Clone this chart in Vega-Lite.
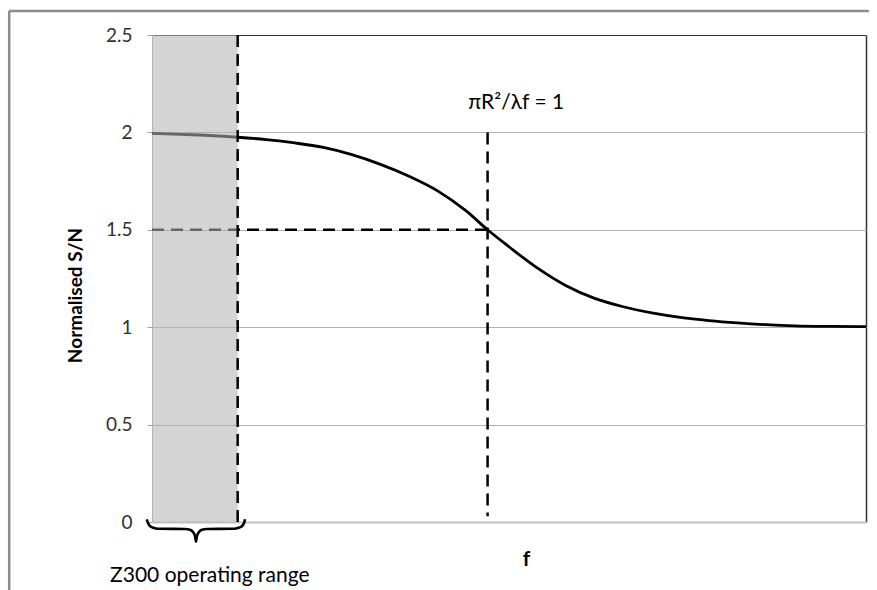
{
  "$schema": "https://vega.github.io/schema/vega-lite/v6.json",
  "width": 714,
  "height": 487,
  "autosize": {"type": "none"},
  "padding": {"left": 152, "top": 35, "right": 11, "bottom": 68},
  "background": "white",
  "config": {"view": {"stroke": null}, "font": "Lato"},
  "datasets": {
    "curve": [
      {"f": 0, "sn": 1.995}, {"f": 4, "sn": 1.99}, {"f": 8, "sn": 1.984}, {"f": 12, "sn": 1.975},
      {"f": 16, "sn": 1.963}, {"f": 20, "sn": 1.946}, {"f": 24, "sn": 1.923}, {"f": 28, "sn": 1.886},
      {"f": 32, "sn": 1.836}, {"f": 36, "sn": 1.775}, {"f": 40, "sn": 1.7}, {"f": 44, "sn": 1.597},
      {"f": 47, "sn": 1.5}, {"f": 50, "sn": 1.413}, {"f": 54, "sn": 1.303}, {"f": 58, "sn": 1.213},
      {"f": 62, "sn": 1.148}, {"f": 66, "sn": 1.105}, {"f": 70, "sn": 1.073}, {"f": 74, "sn": 1.05},
      {"f": 78, "sn": 1.034}, {"f": 82, "sn": 1.022}, {"f": 86, "sn": 1.013}, {"f": 90, "sn": 1.007},
      {"f": 95, "sn": 1.004}, {"f": 100, "sn": 1.003}
    ],
    "hdash": [{"x1": 0, "x2": 47, "y": 1.5}],
    "shade": [{"x1": 0, "x2": 12, "y1": 0, "y2": 2.5}],
    "vdash": [{"x": 12, "y1": 0, "y2": 2.5}, {"x": 47, "y1": 0.03, "y2": 2}],
    "brace": [
      {"o": 0, "bx": -0.74, "by": 0.014}, {"o": 1, "bx": -0.56, "by": -0.005}, {"o": 2, "bx": -0.21, "by": -0.023},
      {"o": 3, "bx": 0.42, "by": -0.032}, {"o": 4, "bx": 1.12, "by": -0.035}, {"o": 5, "bx": 4.62, "by": -0.036},
      {"o": 6, "bx": 5.32, "by": -0.04}, {"o": 7, "bx": 5.74, "by": -0.051}, {"o": 8, "bx": 6.02, "by": -0.072},
      {"o": 9, "bx": 6.16, "by": -0.101}, {"o": 10, "bx": 6.3, "by": -0.072}, {"o": 11, "bx": 6.58, "by": -0.051},
      {"o": 12, "bx": 7.0, "by": -0.04}, {"o": 13, "bx": 7.7, "by": -0.036}, {"o": 14, "bx": 11.2, "by": -0.035},
      {"o": 15, "bx": 11.9, "by": -0.032}, {"o": 16, "bx": 12.54, "by": -0.023}, {"o": 17, "bx": 12.89, "by": -0.005},
      {"o": 18, "bx": 13.03, "by": 0.014}
    ],
    "frame": [
      {"x1": -20, "x2": 100.4, "y1": 2.623, "y2": 2.623},
      {"x1": -20, "x2": -20, "y1": 2.623, "y2": -0.45}
    ],
    "notes": [
      {"x": 51.0, "y": 2.12, "label": "πR²/λf = 1"},
      {"x": 8.1, "y": -0.308, "label": "Z300 operating range"}
    ]
  },
  "layer": [
    {
      "data": {"name": "curve"},
      "mark": {"type": "line", "color": "black", "strokeWidth": 2.8, "interpolate": "monotone"},
      "encoding": {
        "x": {
          "field": "f", "type": "quantitative",
          "scale": {"domain": [0, 100], "nice": false},
          "axis": {
            "title": "f", "titleFont": "Lato", "titleFontSize": 21, "titleFontWeight": "bold", "titleColor": "black",
            "titleX": 374, "titleY": 43, "titleBaseline": "alphabetic", "titleAlign": "center",
            "labels": false, "ticks": false, "values": [100],
            "grid": true, "gridColor": "#333333", "gridWidth": 1.5,
            "domainColor": "#bfbfbf", "domainWidth": 2
          }
        },
        "y": {
          "field": "sn", "type": "quantitative",
          "scale": {"domain": [0, 2.5], "nice": false},
          "axis": {
            "title": "Normalised S/N", "titleFont": "Lato", "titleFontSize": 19, "titleFontWeight": "bold", "titleColor": "black",
            "titleX": -77, "titleY": 260, "titleAngle": -90, "titleBaseline": "middle", "titleAlign": "center",
            "values": [0, 0.5, 1, 1.5, 2, 2.5], "format": "~g",
            "labelFont": "Lato", "labelFontSize": 19, "labelColor": "#303030", "labelPadding": 15,
            "tickColor": "#a0a0a0", "tickSize": 5,
            "grid": true,
            "gridColor": {"condition": {"test": "datum.value == 2.5", "value": "#333333"}, "value": "#b0b0b0"},
            "domainColor": "#b8b8b8", "domainWidth": 1
          }
        }
      }
    },
    {
      "data": {"name": "hdash"},
      "mark": {"type": "rule", "color": "black", "strokeWidth": 2.5, "strokeDash": [12, 7]},
      "encoding": {
        "x": {"field": "x1", "type": "quantitative"},
        "x2": {"field": "x2"},
        "y": {"field": "y", "type": "quantitative"}
      }
    },
    {
      "data": {"name": "shade"},
      "mark": {"type": "rect", "color": "#b3b3b3", "opacity": 0.57},
      "encoding": {
        "x": {"field": "x1", "type": "quantitative"},
        "x2": {"field": "x2"},
        "y": {"field": "y1", "type": "quantitative"},
        "y2": {"field": "y2"}
      }
    },
    {
      "data": {"name": "vdash"},
      "mark": {"type": "rule", "color": "black", "strokeWidth": 2.5, "strokeDash": [12, 7]},
      "encoding": {
        "x": {"field": "x", "type": "quantitative"},
        "y": {"field": "y2", "type": "quantitative"},
        "y2": {"field": "y1"}
      }
    },
    {
      "data": {"name": "brace"},
      "mark": {"type": "line", "color": "black", "strokeWidth": 2.6, "interpolate": "monotone"},
      "encoding": {
        "x": {"field": "bx", "type": "quantitative"},
        "y": {"field": "by", "type": "quantitative"},
        "order": {"field": "o"}
      }
    },
    {
      "data": {"name": "frame"},
      "mark": {"type": "rule", "color": "#8c8c8c", "strokeWidth": 2.5},
      "encoding": {
        "x": {"field": "x1", "type": "quantitative"},
        "x2": {"field": "x2"},
        "y": {"field": "y1", "type": "quantitative"},
        "y2": {"field": "y2"}
      }
    },
    {
      "data": {"name": "notes"},
      "mark": {"type": "text", "font": "Lato", "fontSize": 21, "color": "black", "align": "center", "baseline": "alphabetic"},
      "encoding": {
        "x": {"field": "x", "type": "quantitative"},
        "y": {"field": "y", "type": "quantitative"},
        "text": {"field": "label"}
      }
    }
  ]
}
